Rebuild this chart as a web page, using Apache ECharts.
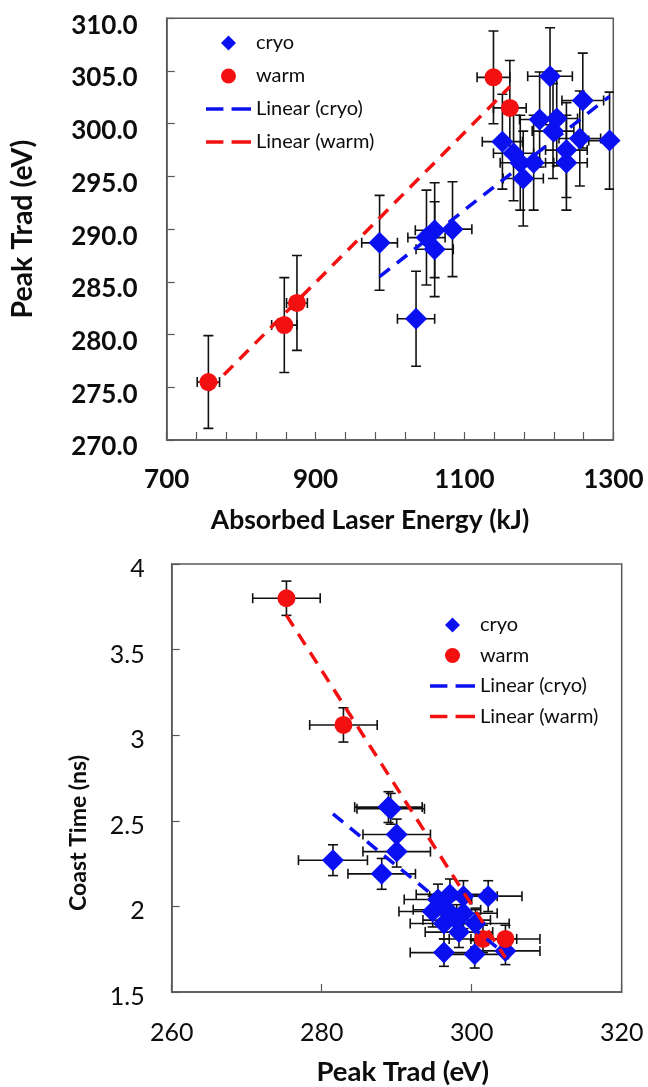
<!DOCTYPE html>
<html>
<head>
<meta charset="utf-8">
<script src="https://cdn.jsdelivr.net/npm/echarts@6/dist/echarts.min.js"></script>
<style>
html,body{margin:0;padding:0;background:#fff;}
#chart{width:648px;height:1087px;}
</style>
</head>
<body>
<div id="chart"></div>
<script>
// ---------- Top chart: Peak Trad vs Absorbed Laser Energy ----------
const topXTicks = [700, 900, 1100, 1300];
const topYTicks = [270, 275, 280, 285, 290, 295, 300, 305, 310];

const warmEnergy    = [756, 858, 875, 1139, 1161];
const warmTrad      = [275.5, 280.9, 283.0, 304.4, 301.5];
const warmEnergyErr = [15, 17, 14, 22, 22];
const warmTradErr   = [4.4, 4.5, 4.5, 4.4, 4.5];

const cryoEnergy    = [986, 1035, 1049, 1060, 1060, 1084, 1215, 1259, 1201, 1224, 1219, 1295, 1255, 1151, 1237, 1237, 1166, 1175, 1193, 1179];
const cryoTrad      = [288.7, 281.5, 289.2, 289.9, 288.1, 290.0, 304.5, 302.2, 300.4, 300.5, 299.3, 298.4, 298.6, 298.3, 297.5, 296.3, 297.2, 296.3, 296.3, 294.8];
const cryoEnergyErr = [24, 25, 25, 26, 25, 26, 30, 28, 27, 28, 28, 28, 28, 27, 28, 28, 27, 27, 27, 27];
const cryoTradErr   = [4.5, 4.5, 4.5, 4.5, 4.5, 4.5, 4.6, 4.5, 4.5, 4.5, 4.5, 4.6, 4.5, 4.5, 4.5, 4.5, 4.5, 4.5, 4.5, 4.5];

const trendWarmTop = [[756, 274.7], [1161, 303.5]];
const trendCryoTop = [[986, 285.5], [1295, 302.6]];

// ---------- Bottom chart: Coast Time vs Peak Trad ----------
const botXTicks = [260, 280, 300, 320];
const botYTicks = [1.5, 2, 2.5, 3, 3.5, 4];

const warmTrad2    = [275.3, 282.9, 301.5, 304.5];
const warmCoast    = [3.80, 3.06, 1.81, 1.81];
const warmTrad2Err = [4.5, 4.5, 4.5, 4.6];
const warmCoastErr = [0.10, 0.10, 0.08, 0.08];

const cryoTrad2    = [288.9, 289.2, 290.0, 290.0, 281.5, 288.0, 295.5, 297.1, 298.9, 302.2, 294.8, 296.7, 298.9, 296.3, 298.0, 298.3, 296.3, 300.4, 304.5, 300.5];
const cryoCoast    = [2.58, 2.57, 2.42, 2.32, 2.27, 2.19, 2.04, 2.07, 2.06, 2.06, 1.97, 1.98, 1.96, 1.90, 1.92, 1.85, 1.73, 1.72, 1.74, 1.90];
const cryoTrad2Err = [4.5, 4.5, 4.5, 4.5, 4.6, 4.5, 4.5, 4.5, 4.5, 4.5, 4.5, 4.5, 4.5, 4.5, 4.5, 4.5, 4.5, 4.5, 4.6, 4.5];
const cryoCoastErr = [0.09, 0.09, 0.09, 0.09, 0.09, 0.09, 0.09, 0.09, 0.09, 0.09, 0.09, 0.09, 0.09, 0.09, 0.09, 0.09, 0.08, 0.08, 0.08, 0.09];

const trendWarmBot = [[275.3, 3.70], [304.5, 1.70]];
const trendCryoBot = [[281.5, 2.54], [304.5, 1.72]];

const legendNames = ['cryo', 'warm', 'Linear (cryo)', 'Linear (warm)'];

// ---------- helpers ----------
const BLUE = '#0a10f0', RED = '#f21010', AX = '#595959', TXT = '#0d0d0d';
const FONT = 'Lato';
const ICON_DIAMOND = 'path://M10,0L20,10L10,20L0,10Z';
const ICON_CIRCLE = 'circle';
const ICON_DASH = 'path://M0,0L17,0L17,3.5L0,3.5Z M25,0L44,0L44,3.5L25,3.5Z';

function pts(xs, ys) { return xs.map((x, i) => [x, ys[i]]); }
function errs(xs, ys, ex, ey) { return xs.map((x, i) => [x, ys[i], ex[i], ey[i]]); }

function errorRender(params, api) {
  const x = api.value(0), y = api.value(1), ex = api.value(2), ey = api.value(3);
  const c = api.coord([x, y]);
  const l = api.coord([x - ex, y]), r = api.coord([x + ex, y]);
  const t = api.coord([x, y + ey]), b = api.coord([x, y - ey]);
  const cap = 5;
  const st = { stroke: '#111', lineWidth: 1.6 };
  const line = (x1, y1, x2, y2) => ({ type: 'line', shape: { x1, y1, x2, y2 }, style: st });
  return {
    type: 'group',
    children: [
      line(l[0], c[1], r[0], c[1]),
      line(l[0], c[1] - cap, l[0], c[1] + cap),
      line(r[0], c[1] - cap, r[0], c[1] + cap),
      line(c[0], t[1], c[0], b[1]),
      line(c[0] - cap, t[1], c[0] + cap, t[1]),
      line(c[0] - cap, b[1], c[0] + cap, b[1])
    ]
  };
}

function axisCommon() {
  return {
    type: 'value',
    axisLine: { show: true, lineStyle: { color: AX, width: 1.5 } },
    axisTick: { show: true, inside: true, length: 8, lineStyle: { color: AX, width: 1.2 } },
    splitLine: { show: false }
  };
}

const dashStyle = (color) => ({ color, width: 3.5, type: [13, 9] });

function legendFor(left, top, gap) {
  return {
    left, top, orient: 'vertical', itemWidth: 45, itemHeight: 15, itemGap: gap,
    symbolKeepAspect: true,
    textStyle: { fontSize: 20, color: TXT, fontFamily: FONT, lineHeight: 20 },
    data: [
      { name: legendNames[0], icon: ICON_DIAMOND },
      { name: legendNames[1], icon: ICON_CIRCLE },
      { name: legendNames[2], icon: ICON_DASH },
      { name: legendNames[3], icon: ICON_DASH }
    ]
  };
}

const option = {
  animation: false,
  backgroundColor: '#fff',
  textStyle: { fontFamily: FONT },
  grid: [
    { left: 166.7, top: 18.3, width: 446.6, height: 421.7, show: true, borderColor: AX, borderWidth: 1.5 },
    { left: 171.7, top: 564, width: 450, height: 428, show: true, borderColor: AX, borderWidth: 1.5 }
  ],
  xAxis: [
    Object.assign(axisCommon(), {
      gridIndex: 0, min: topXTicks[0], max: topXTicks[topXTicks.length - 1], interval: topXTicks[1] - topXTicks[0],
      minorTick: { show: true, splitNumber: 5, length: 8, lineStyle: { color: AX, width: 1.2 } },
      axisLabel: { fontSize: 26, fontWeight: 'bold', color: TXT, fontFamily: FONT, margin: 27, formatter: v => String(v) },
      name: 'Absorbed Laser Energy (kJ)', nameLocation: 'middle', nameGap: 67,
      nameTextStyle: { fontSize: 26.5, fontWeight: 'bold', color: TXT, fontFamily: FONT, padding: [0, 40, 0, 0] }
    }),
    Object.assign(axisCommon(), {
      gridIndex: 1, min: botXTicks[0], max: botXTicks[botXTicks.length - 1], interval: botXTicks[1] - botXTicks[0],
      axisLabel: { fontSize: 25, color: TXT, fontFamily: FONT, margin: 28, formatter: v => String(v) },
      name: 'Peak Trad (eV)', nameLocation: 'middle', nameGap: 66,
      nameTextStyle: { fontSize: 27.5, fontWeight: 'bold', color: TXT, fontFamily: FONT, padding: [0, 0, 0, 12] }
    })
  ],
  yAxis: [
    Object.assign(axisCommon(), {
      gridIndex: 0, min: topYTicks[0], max: topYTicks[topYTicks.length - 1], interval: topYTicks[1] - topYTicks[0],
      axisLabel: { fontSize: 26, fontWeight: 'bold', color: TXT, fontFamily: FONT, margin: 29,
                   verticalAlign: 'top', lineHeight: 14, formatter: v => v.toFixed(1) },
      name: 'Peak Trad (eV)', nameLocation: 'middle', nameGap: 129,
      nameTextStyle: { fontSize: 28.5, fontWeight: 'bold', color: TXT, fontFamily: FONT }
    }),
    Object.assign(axisCommon(), {
      gridIndex: 1, min: botYTicks[0], max: botYTicks[botYTicks.length - 1], interval: botYTicks[1] - botYTicks[0],
      axisLabel: { fontSize: 25, color: TXT, fontFamily: FONT, margin: 27, verticalAlign: 'top', lineHeight: 10 },
      name: 'Coast Time (ns)', nameLocation: 'middle', nameGap: 82,
      nameTextStyle: { fontSize: 23, fontWeight: 'bold', color: TXT, fontFamily: FONT, padding: [0, 110, 0, 0] }
    })
  ],
  legend: [legendFor(201, 28, 13), legendFor(425, 610, 10.5)],
  series: [
    // ----- top -----
    { type: 'custom', xAxisIndex: 0, yAxisIndex: 0, renderItem: errorRender, clip: true, z: 2,
      encode: { x: 0, y: 1 }, data: errs(cryoEnergy, cryoTrad, cryoEnergyErr, cryoTradErr), silent: true },
    { type: 'custom', xAxisIndex: 0, yAxisIndex: 0, renderItem: errorRender, clip: true, z: 2,
      encode: { x: 0, y: 1 }, data: errs(warmEnergy, warmTrad, warmEnergyErr, warmTradErr), silent: true },
    { name: 'cryo', type: 'scatter', xAxisIndex: 0, yAxisIndex: 0, symbol: 'diamond', symbolSize: [22, 22],
      itemStyle: { color: BLUE, opacity: 1 }, z: 3, data: pts(cryoEnergy, cryoTrad) },
    { name: 'warm', type: 'scatter', xAxisIndex: 0, yAxisIndex: 0, symbol: 'circle', symbolSize: 18,
      itemStyle: { color: RED, opacity: 1 }, z: 3, data: pts(warmEnergy, warmTrad) },
    { name: 'Linear (cryo)', type: 'line', xAxisIndex: 0, yAxisIndex: 0, symbol: 'none', z: 4,
      lineStyle: dashStyle(BLUE), itemStyle: { color: BLUE }, data: trendCryoTop },
    { name: 'Linear (warm)', type: 'line', xAxisIndex: 0, yAxisIndex: 0, symbol: 'none', z: 4,
      lineStyle: dashStyle(RED), itemStyle: { color: RED }, data: trendWarmTop },
    // ----- bottom -----
    { type: 'custom', xAxisIndex: 1, yAxisIndex: 1, renderItem: errorRender, clip: true, z: 2,
      encode: { x: 0, y: 1 }, data: errs(cryoTrad2, cryoCoast, cryoTrad2Err, cryoCoastErr), silent: true },
    { type: 'custom', xAxisIndex: 1, yAxisIndex: 1, renderItem: errorRender, clip: true, z: 2,
      encode: { x: 0, y: 1 }, data: errs(warmTrad2, warmCoast, warmTrad2Err, warmCoastErr), silent: true },
    { name: 'cryo', type: 'scatter', xAxisIndex: 1, yAxisIndex: 1, symbol: 'diamond', symbolSize: [22, 22],
      itemStyle: { color: BLUE, opacity: 1 }, z: 3, data: pts(cryoTrad2, cryoCoast) },
    { name: 'warm', type: 'scatter', xAxisIndex: 1, yAxisIndex: 1, symbol: 'circle', symbolSize: 18,
      itemStyle: { color: RED, opacity: 1 }, z: 3, data: pts(warmTrad2, warmCoast) },
    { name: 'Linear (cryo)', type: 'line', xAxisIndex: 1, yAxisIndex: 1, symbol: 'none', z: 4,
      lineStyle: dashStyle(BLUE), itemStyle: { color: BLUE }, data: trendCryoBot },
    { name: 'Linear (warm)', type: 'line', xAxisIndex: 1, yAxisIndex: 1, symbol: 'none', z: 4,
      lineStyle: dashStyle(RED), itemStyle: { color: RED }, data: trendWarmBot }
  ]
};

const chart = echarts.init(document.getElementById('chart'), null, { renderer: 'canvas' });
chart.setOption(option);
</script>
</body>
</html>
